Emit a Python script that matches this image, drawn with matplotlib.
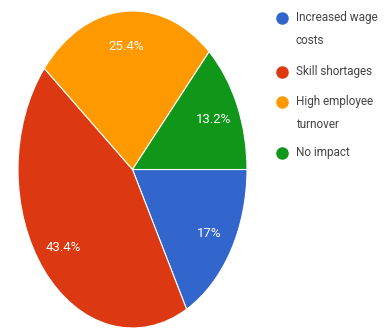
import matplotlib.pyplot as plt
from matplotlib.lines import Line2D

# data
labels = ['Increased wage\ncosts', 'Skill shortages', 'High employee\nturnover', 'No impact']
values = [17, 43.4, 25.4, 13.2]
colors = ['#3366cc', '#dc3912', '#ff9900', '#109618']

plt.rcParams['font.family'] = ['Roboto', 'DejaVu Sans']

fig = plt.figure(figsize=(3.87, 3.29), dpi=100)
W, H = 387, 329

# pie is stretched into an ellipse in the reference
cx, cy, rx, ry = 132.5, 169.5, 114.5, 158.5
ax = fig.add_axes([(cx - rx) / W, 1 - (cy + ry) / H, 2 * rx / W, 2 * ry / H])
wedges, texts, autotexts = ax.pie(values, colors=colors, startangle=0, counterclock=False,
                                  autopct='%1.1f%%', pctdistance=0.78,
                                  wedgeprops=dict(edgecolor='white', linewidth=0.8))
for t, v in zip(autotexts, values):
    t.set_text(f'{v:g}%')
    t.set_color('white')
    t.set_fontsize(9.5)
ax.set_xlim(-1, 1)
ax.set_ylim(-1, 1)
ax.set_aspect('auto')
ax.axis('off')

# legend, drawn by hand
legend_y = [18, 72, 102, 153]
for lab, col, y in zip(labels, colors, legend_y):
    fig.add_artist(Line2D([282 / W], [1 - y / H], marker='o', markersize=8,
                          color=col, linestyle='none', transform=fig.transFigure))
    fig.text(296 / W, 1 - (y - 7) / H, lab, fontsize=8.5, color='#444444',
             va='top', ha='left', linespacing=2.0)

fig.savefig('out.png', dpi=100)
